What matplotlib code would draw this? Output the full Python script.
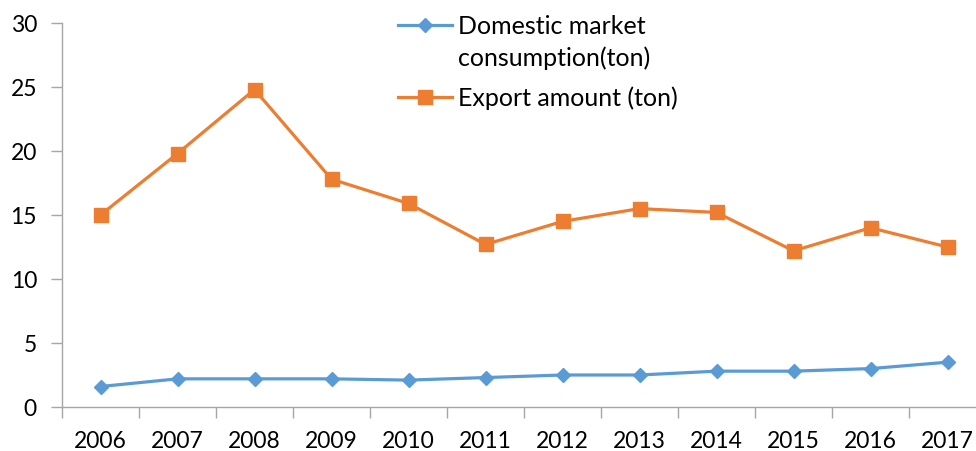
import matplotlib
matplotlib.use("Agg")
import matplotlib.pyplot as plt
from matplotlib.lines import Line2D

years = ["2006", "2007", "2008", "2009", "2010", "2011", "2012", "2013", "2014", "2015", "2016", "2017"]
domestic = [1.6, 2.2, 2.2, 2.2, 2.1, 2.3, 2.5, 2.5, 2.8, 2.8, 3.0, 3.5]
export = [15.0, 19.8, 24.8, 17.8, 15.9, 12.7, 14.5, 15.5, 15.2, 12.2, 14.0, 12.5]
label_dom = ["Domestic market", "consumption(ton)"]
label_exp = "Export amount (ton)"

plt.rcParams['font.family'] = ['Lato', 'DejaVu Sans']

BLUE = "#5B9BD5"
ORANGE = "#ED7D31"
GRAY = "#A6A6A6"

fig = plt.figure(figsize=(9.76, 4.51), dpi=100)
ax = fig.add_axes([62/976, 1-407/451, 1-62/976, (407-23)/451])
x = list(range(len(years)))
ax.plot(x, domestic, color=BLUE, lw=2.3, marker='D', ms=7, mec=BLUE, mfc=BLUE, zorder=3)
ax.plot(x, export, color=ORANGE, lw=2.3, marker='s', ms=10, mec=ORANGE, mfc=ORANGE, zorder=3)

ax.set_ylim(0, 30)
ax.set_yticks(range(0, 31, 5))
ax.set_xlim(-0.5, 11.37)
ax.set_xticks([i - 0.5 for i in range(len(years))])
ax.set_xticklabels([])
ax.set_xticks(x, minor=True)
ax.set_xticklabels(years, minor=True)
ax.tick_params(axis='x', which='major', length=8, color=GRAY, width=1, direction='out')
ax.tick_params(axis='x', which='minor', length=0, pad=17, labelsize=16.5)
ax.tick_params(axis='y', length=8, color=GRAY, width=1, pad=10, labelsize=16.5, direction='out')
for s in ['top', 'right']:
    ax.spines[s].set_visible(False)
for s in ['left', 'bottom']:
    ax.spines[s].set_color(GRAY)
    ax.spines[s].set_linewidth(1)

# legend drawn manually
def fx(px):
    return px / 976
def fy(py):
    return 1 - py / 451

fig.lines.append(Line2D([fx(398), fx(452)], [fy(25), fy(25)], color=BLUE, lw=2.3,
                        transform=fig.transFigure))
fig.lines.append(Line2D([fx(425)], [fy(25)], color=BLUE, marker='D', ms=7, transform=fig.transFigure))
fig.lines.append(Line2D([fx(398), fx(452)], [fy(97), fy(97)], color=ORANGE, lw=2.3,
                        transform=fig.transFigure))
fig.lines.append(Line2D([fx(425)], [fy(97)], color=ORANGE, marker='s', ms=10, transform=fig.transFigure))
fig.text(fx(458), fy(26), label_dom[0], fontsize=18, va='center', ha='left')
fig.text(fx(458), fy(58), label_dom[1], fontsize=18, va='center', ha='left')
fig.text(fx(458), fy(98), label_exp, fontsize=18, va='center', ha='left')

fig.savefig("out.png", dpi=100)
